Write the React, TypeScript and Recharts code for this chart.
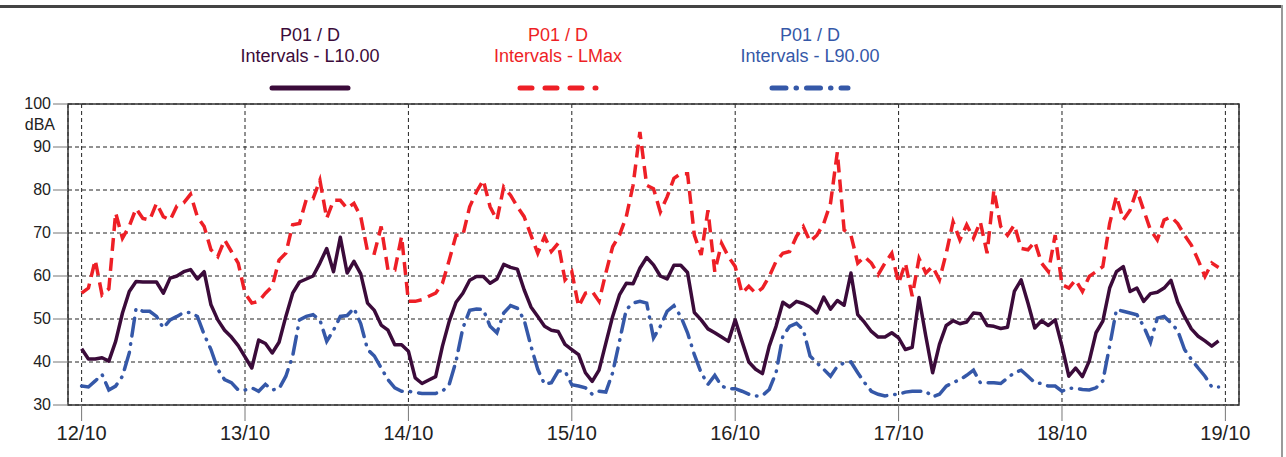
import React from 'react';
import { LineChart, Line, XAxis, YAxis, CartesianGrid, ReferenceArea } from 'recharts';

// day ticks (hours from 12/10 00:00)
const dayLabels = ['12/10', '13/10', '14/10', '15/10', '16/10', '17/10', '18/10', '19/10'];
const yTicks = [30, 40, 50, 60, 70, 80, 90, 100];
const legendTitle = 'P01 / D';
const seriesNames = ['Intervals - L10.00', 'Intervals - LMax', 'Intervals - L90.00'];
const colors = ['#3b0b3a', '#ee1f26', '#3558a8'];

// hourly values, one row per day
const l10 = [
  43.1, 40.7, 40.7, 41.0, 40.2, 44.8, 51.4, 56.4, 58.7, 58.6, 58.6, 58.6, 56.0, 59.5, 60.0, 61.0, 61.5, 59.3, 61.0, 53.3, 49.8, 47.4, 45.8, 43.8,
  41.2, 38.6, 45.1, 44.3, 42.1, 44.6, 50.6, 56.0, 58.6, 59.3, 60.0, 63.0, 66.4, 61.0, 69.0, 60.7, 63.4, 60.5, 53.7, 52.0, 48.6, 47.4, 44.0, 44.0,
  42.5, 36.3, 35.0, 35.8, 36.6, 43.7, 49.5, 53.9, 56.0, 59.0, 59.9, 59.9, 58.3, 59.3, 62.7, 62.0, 61.6, 56.8, 52.8, 50.6, 48.3, 47.4, 47.1, 44.1,
  42.9, 41.7, 37.5, 35.5, 38.1, 44.4, 50.6, 55.6, 58.3, 58.2, 61.8, 64.3, 62.6, 60.0, 59.3, 62.5, 62.5, 60.8, 51.5, 49.8, 47.7, 46.8, 45.8, 44.8,
  49.8, 44.8, 40.0, 38.3, 37.3, 43.7, 48.3, 53.9, 52.8, 54.1, 53.6, 52.8, 51.4, 55.1, 52.3, 54.3, 53.2, 60.7, 51.0, 49.2, 47.1, 45.8, 45.8, 46.8,
  45.6, 42.9, 43.4, 55.0, 46.0, 37.5, 44.1, 48.5, 49.6, 48.9, 49.3, 51.4, 51.2, 48.5, 48.3, 47.8, 48.1, 56.4, 59.1, 53.7, 47.9, 49.6, 48.5, 49.8,
  43.7, 36.7, 38.6, 36.6, 40.2, 46.8, 49.5, 57.2, 61.0, 62.2, 56.4, 57.2, 54.1, 55.9, 56.2, 57.2, 59.0, 53.9, 50.6, 47.7, 46.0, 44.9, 43.7, 44.9,
];

const lmax = [
  56.0, 57.2, 63.7, 55.6, 57.0, 74.7, 68.8, 71.6, 75.7, 73.4, 73.0, 76.9, 73.8, 73.0, 76.3, 77.0, 79.0, 73.8, 71.5, 66.1, 64.5, 68.4, 65.7, 63.0,
  56.0, 53.7, 54.1, 56.0, 57.6, 63.7, 65.3, 71.9, 72.2, 77.8, 78.0, 82.3, 73.4, 77.6, 77.6, 75.7, 76.9, 73.8, 65.7, 65.3, 71.5, 61.4, 61.4, 69.2,
  54.1, 54.1, 54.5, 55.3, 56.0, 58.3, 63.7, 69.5, 69.5, 76.1, 79.6, 82.3, 76.1, 73.0, 80.7, 78.8, 76.1, 73.8, 69.5, 65.3, 69.2, 65.7, 67.6, 59.1,
  61.0, 52.9, 56.0, 56.4, 54.1, 60.7, 66.8, 69.5, 73.8, 81.1, 93.5, 81.1, 80.3, 74.9, 78.4, 82.7, 83.8, 83.8, 69.5, 64.9, 75.3, 61.0, 67.6, 64.5,
  62.2, 56.0, 57.6, 56.0, 57.2, 59.9, 63.4, 65.3, 65.7, 69.2, 71.5, 68.0, 69.5, 72.2, 76.9, 88.8, 70.7, 69.5, 63.0, 64.5, 63.0, 60.3, 63.0, 65.3,
  58.3, 63.0, 55.3, 64.1, 60.7, 62.2, 59.1, 65.3, 72.6, 68.4, 71.9, 68.8, 72.6, 65.3, 80.0, 71.5, 69.5, 71.9, 66.4, 66.1, 68.0, 63.0, 61.0, 69.5,
  58.0, 57.2, 59.1, 56.4, 59.9, 61.0, 62.2, 72.2, 78.6, 73.0, 75.3, 80.0, 75.3, 70.7, 68.4, 73.0, 73.8, 72.2, 69.5, 67.2, 63.7, 59.9, 63.0, 62.0,
];

const l90 = [
  34.4, 34.2, 35.6, 37.1, 33.5, 34.4, 36.7, 42.1, 52.5, 51.8, 51.8, 50.6, 47.9, 49.8, 50.6, 51.5, 51.5, 50.6, 46.4, 42.9, 38.3, 35.9, 35.2, 33.5,
  33.5, 34.0, 33.2, 34.8, 33.5, 33.8, 36.7, 41.4, 49.8, 50.6, 51.0, 49.8, 44.8, 47.4, 50.6, 50.8, 52.5, 48.9, 42.9, 41.4, 38.6, 35.9, 34.0, 33.2,
  33.2, 32.9, 32.7, 32.7, 32.7, 33.2, 34.8, 40.2, 47.9, 52.0, 52.3, 52.2, 48.3, 46.8, 51.4, 53.1, 52.5, 49.8, 43.7, 38.3, 34.8, 35.2, 37.9, 37.9,
  34.7, 34.4, 34.0, 32.5, 33.2, 33.0, 37.5, 44.8, 52.2, 53.7, 54.1, 53.7, 45.6, 48.3, 51.8, 53.1, 50.6, 46.8, 41.7, 37.5, 34.8, 36.9, 34.4, 33.8,
  33.8, 33.2, 32.5, 32.1, 32.2, 33.6, 37.5, 46.0, 48.3, 49.0, 47.5, 41.4, 39.8, 38.3, 36.7, 39.0, 39.8, 40.0, 37.5, 35.2, 33.2, 32.5, 32.1, 32.4,
  32.5, 33.0, 33.2, 33.2, 33.2, 31.9, 32.5, 34.4, 35.2, 35.9, 36.9, 38.1, 35.2, 35.2, 35.2, 35.0, 36.3, 37.5, 38.1, 36.7, 35.2, 35.0, 34.4, 34.4,
  33.2, 33.9, 33.9, 33.6, 33.5, 34.0, 35.6, 43.7, 52.2, 51.8, 51.4, 51.0, 48.3, 44.6, 50.2, 50.6, 49.1, 47.3, 42.9, 40.6, 38.6, 36.7, 34.2, 34.2,
];

const data = l10.map((v, i) => ({ hour: i, l10: v, lmax: lmax[i], l90: l90[i] }));
const dayTicks = dayLabels.map((_, i) => i * 24);

const font = '"Liberation Sans", Arial, sans-serif';
const dashes = [undefined, '13 7', '18 8 0.5 8'];

const YTick = ({ x, y, payload }: any) => (
  <g>
    <text x={x} y={y} dy={5} textAnchor='end' fontSize={16} fill='#222' fontFamily={font}>
      {payload.value}
    </text>
    {payload.value === 100 && (
      <text x={x + 4} y={y + 21} dy={5} textAnchor='end' fontSize={16} fill='#222' fontFamily={font}>
        dBA
      </text>
    )}
  </g>
);

const LegendBox = () => {
  const centers = [310, 558, 810];
  return (
    <svg width={1286} height={100} style={{ position: 'absolute', left: 0, top: 0, pointerEvents: 'none' }}>
      {centers.map((cx, i) => (
        <g key={i} fontFamily={font} fontSize={18} fill={colors[i]} textAnchor='middle'>
          <text x={cx} y={41}>{legendTitle}</text>
          <text x={cx} y={62}>{seriesNames[i]}</text>
          <line
            x1={cx - 38}
            x2={cx + 38}
            y1={88}
            y2={88}
            stroke={colors[i]}
            strokeWidth={5}
            strokeLinecap='round'
            strokeDasharray={i === 1 ? '12 13' : i === 2 ? '14 10 0.5 10' : undefined}
          />
        </g>
      ))}
    </svg>
  );
};

export default function App() {
  return (
    <div style={{ position: 'absolute', left: 0, top: 0, width: 1286, height: 457, background: '#fff' }}>
      <div style={{ position: 'absolute', left: 0, top: 5, width: 1283, height: 3, background: '#444' }} />
      <div style={{ position: 'absolute', left: 1281, top: 5, width: 2, height: 452, background: '#9a9a9a' }} />
      <LegendBox />
      <LineChart width={1286} height={457} data={data} margin={{ top: 104, right: 47, bottom: 0, left: 0 }}>
        <CartesianGrid stroke='#222' strokeDasharray='4 3' />
        <XAxis
          dataKey='hour'
          type='number'
          domain={[-2, 170]}
          ticks={dayTicks}
          tickFormatter={(v: number) => dayLabels[v / 24]}
          height={52}
          tickSize={16}
          tickMargin={5}
          tickLine={{ stroke: '#777' }}
          axisLine={false}
          tick={{ fontSize: 20, fill: '#222', fontFamily: font }}
          interval={0}
        />
        <YAxis
          type='number'
          domain={[30, 100]}
          ticks={yTicks}
          width={68}
          tickSize={15}
          tickLine={{ stroke: '#777' }}
          axisLine={false}
          tick={<YTick />}
          interval={0}
        />
        <ReferenceArea x1={-2} x2={170} y1={30} y2={100} fill='none' stroke='#333' strokeWidth={1.5} />
        <Line dataKey='l90' stroke={colors[2]} strokeWidth={3.5} strokeDasharray={dashes[2]} strokeLinecap='round' dot={false} isAnimationActive={false} />
        <Line dataKey='lmax' stroke={colors[1]} strokeWidth={3.5} strokeDasharray={dashes[1]} dot={false} isAnimationActive={false} />
        <Line dataKey='l10' stroke={colors[0]} strokeWidth={3.5} strokeLinejoin='round' dot={false} isAnimationActive={false} />
      </LineChart>
    </div>
  );
}
